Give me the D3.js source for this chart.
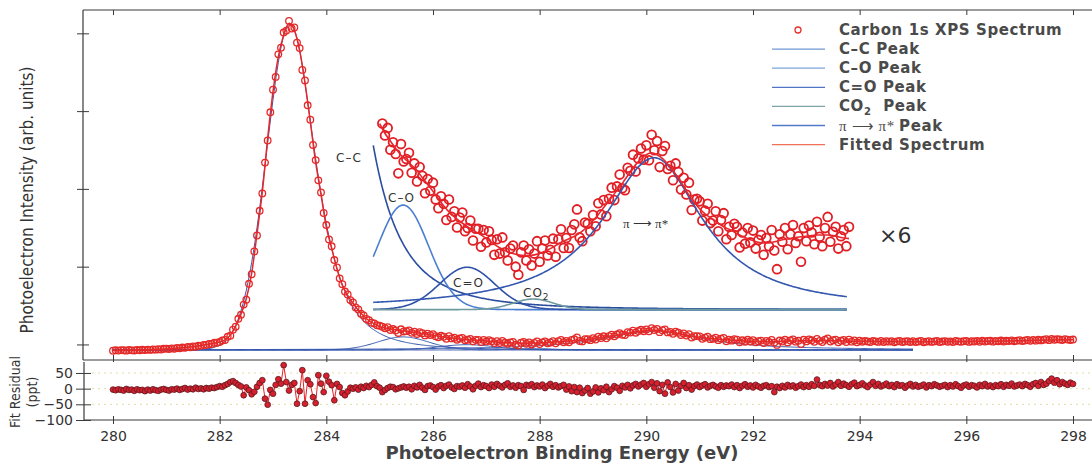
<!DOCTYPE html>
<html>
<head>
<meta charset="utf-8">
<script src="https://cdn.jsdelivr.net/npm/d3@7"></script>
<style>
  body { margin: 0; background: #fff; }
  svg text { font-family: "DejaVu Sans", sans-serif; fill: #333; }
</style>
</head>
<body>
<svg id="chart" width="1092" height="466"></svg>
<script>
// C 1s spectrum, sampled every 0.05 eV from 280 eV (counts, arb.)
const spectrumStart = 280, spectrumStep = 0.05;
const spectrum = [
  919,925,921,927,926,920,928,924,923,930,925,932,927,934,930,936,933,939,935,944,
  946,941,950,945,955,950,960,956,968,963,975,971,984,982,995,993,1007,1006,1021,1022,
  1031,1050,1057,1098,1113,1190,1228,1330,1381,1512,1576,1780,1902,2195,2401,2718,2942,3338,3622,3985,
  4275,4440,4730,4815,5010,5035,5160,5062,5075,4880,4810,4530,4395,4075,3890,3565,3370,3110,2955,2690,
  2535,2350,2262,2085,1990,1850,1775,1680,1642,1570,1541,1476,1449,1395,1372,1328,1311,1279,1270,1246,
  1240,1228,1209,1221,1186,1198,1179,1148,1195,1167,1171,1181,1149,1164,1135,1158,1144,1116,1139,1120,
  1133,1106,1092,1111,1099,1073,1106,1078,1087,1061,1077,1085,1055,1060,1072,1040,1059,1059,1030,1057,
  1037,1055,1041,1017,1042,1019,1045,1021,1008,1027,1032,998,985,1021,1032,1008,1026,1000,1019,1039,
  1006,1027,1040,1016,1025,1043,1014,1042,1058,1028,1044,1028,1057,1066,1090,1045,1039,1069,1067,1055,
  1081,1063,1100,1082,1105,1079,1107,1125,1105,1127,1146,1124,1121,1157,1152,1178,1151,1172,1188,1170,
  1193,1169,1210,1185,1200,1158,1184,1192,1155,1160,1137,1164,1150,1122,1141,1114,1133,1089,1106,1107,
  1103,1072,1088,1099,1068,1072,1087,1055,1073,1084,1042,1062,1049,1067,1062,1029,1053,1035,1060,1037,
  1056,1027,1041,1049,1017,1044,1031,1057,1024,994,1050,1038,1060,1026,1050,1065,1036,1047,1006,1060,
  1039,1064,1053,1034,1070,1046,1031,1060,1078,1038,1054,1062,1027,1047,1057,1031,1062,1036,1051,1027,
  1048,1035,1044,1037,1031,1046,1040,1033,1045,1030,1041,1036,1043,1029,1039,1044,1032,1038,1042,1031,
  1042,1030,1038,1044,1029,1036,1041,1033,1039,1045,1031,1037,1043,1034,1040,1030,1044,1039,1035,1042,
  1045,1033,1041,1037,1046,1034,1048,1038,1044,1049,1036,1045,1040,1050,1038,1047,1043,1052,1040,1049,
  1054,1043,1051,1057,1046,1058,1049,1061,1052,1060,1068,1055,1072,1060,1066,1063,1057,1068,1062,1058,
  1063
];

// fitted spectrum, every 0.1 eV from 280 eV
const fitStart = 280, fitStep = 0.1;
const fitted = [
  922,923,924,925,926,928,930,932,935,938,
  942,946,951,957,964,972,981,992,1004,1017,
  1033,1060,1120,1235,1390,1590,1915,2420,2960,3650,
  4250,4700,4980,5130,5040,4780,4360,3860,3340,2930,
  2510,2240,1970,1760,1630,1530,1440,1365,1305,1265,
  1228,1212,1200,1188,1177,1169,1161,1152,1141,1130,
  1119,1107,1096,1086,1078,1071,1065,1059,1054,1049,
  1043,1037,1031,1026,1022,1019,1017,1016,1016,1017,
  1019,1023,1027,1032,1037,1041,1045,1049,1055,1063,
  1072,1082,1093,1104,1115,1126,1138,1150,1162,1171,
  1178,1181,1178,1172,1163,1152,1141,1127,1113,1101,
  1091,1083,1077,1071,1065,1060,1056,1051,1047,1043,
  1040,1037,1036,1036,1038,1040,1042,1043,1045,1046,
  1047,1048,1049,1049,1049,1048,1046,1044,1043,1042,
  1042,1041,1040,1039,1038,1038,1037,1037,1036,1036,
  1036,1035,1035,1036,1036,1036,1037,1037,1038,1038,
  1039,1039,1040,1041,1042,1042,1043,1044,1045,1046,
  1048,1049,1051,1053,1055,1057,1058,1059,1060,1060,
  1060
];

// fit residual (ppt), same sampling as spectrum
const residual = [
  -3,-5,-2,-4,-6,-1,-4,-3,-7,-2,-5,-4,-8,-3,-6,-2,-5,-7,-3,-1,-4,-6,-2,-3,0,-4,-1,2,-3,0,-2,3,-1,1,-2,2,
  0,3,2,5,8,6,11,15,21,24,18,12,7,-21,4,
  -5,-18,-10,6,18,27,-32,-51,-4,-16,12,30,16,75,21,-6,12,18,-48,-8,
  59,-48,27,14,-27,-46,43,16,-11,41,22,11,-37,15,5,-14,-21,-9,3,0,
  4,-3,6,2,9,5,12,20,8,3,-11,-4,2,6,5,-2,1,4,7,3,
  6,-2,9,4,12,3,-4,8,10,5,-3,7,11,2,9,13,4,-1,8,6,
  10,3,14,7,-2,9,16,5,11,8,2,13,6,15,9,4,12,17,6,10,
  3,11,8,-4,12,9,14,5,10,7,13,2,9,15,6,11,4,8,12,-3,
  7,-8,5,-11,3,-14,-6,2,-16,-9,4,-12,1,-5,6,-11,-2,8,3,-7,
  9,4,12,1,10,15,7,13,18,6,14,21,3,17,-8,12,-16,20,5,-12,
  15,-6,9,18,2,11,-3,8,13,5,10,14,4,9,12,7,3,11,6,10,
  8,13,5,11,2,9,14,6,10,4,12,7,3,9,11,5,8,-11,6,2,
  9,4,12,7,10,3,8,13,5,11,6,14,9,29,12,8,15,10,18,7,
  13,21,9,16,11,6,14,19,8,12,17,10,5,13,21,9,15,7,11,16,
  8,12,5,14,9,11,3,10,15,7,12,6,9,13,4,11,8,14,10,6,
  9,12,5,11,7,14,8,3,10,13,6,11,9,4,12,8,15,7,10,5,
  11,8,14,6,12,9,16,7,10,13,8,15,11,6,14,18,9,21,12,16,
  24,32,19,27,14,21,16,12,19,15
];

// fitted component peaks (asymmetric Pearson VII: shape 1 = Lorentzian, large = Gaussian)
const peakNames = ['C–C', 'C–O', 'C=O', 'CO2', 'π → π*'];
const peakCenters = [283.32, 285.44, 286.64, 287.88, 290.15];
const peakHeights = [4190, 168, 68, 17, 244];
const peakHwhmLow = [0.52, 0.565, 0.61, 0.45, 1.18];
const peakHwhmHigh = [0.56, 0.565, 0.61, 0.45, 1.1];
const peakShapeLow = [30, 30, 30, 30, 1];
const peakShapeHigh = [1.8, 30, 30, 30, 1];
const peakBase = 929;

const xTicks = [280, 282, 284, 286, 288, 290, 292, 294, 296, 298];
const yTicks = [1000, 2000, 3000, 4000, 5000];
const resTicks = [50, 0, -50, -100];
const resGrid = [50, 0, -50];

// magnified view of 285-294 eV
const insetScale = 8, insetOffset = 748;
const insetRange = [285.05, 293.8];
const insetPeakRange = [284.88, 293.77];

const legendLabels = ['Carbon 1s XPS Spectrum', 'C–C Peak', 'C–O Peak', 'C=O Peak', 'CO2 Peak', 'π → π* Peak', 'Fitted Spectrum'];
const legendColors = ['#e8332c', '#7098d4', '#7ea4da', '#5274c4', '#7fa3a6', '#5479c8', '#f07058'];
const insetColors = ['#2b4e9e', '#4a7fd0', '#2f52a8', '#6e9a9e', '#3458b0'];

const svg = d3.select('#chart');
const x = d3.scaleLinear().domain([280, 298]).range([113, 1073]);
const y = d3.scaleLinear().domain([800, 5300]).range([360, 10]);
const yRes = d3.scaleLinear().domain([-100, 85]).range([420, 362]);

function peak(e, i) {
  const d = e - peakCenters[i];
  const hw = d < 0 ? peakHwhmLow[i] : peakHwhmHigh[i];
  const m = d < 0 ? peakShapeLow[i] : peakShapeHigh[i];
  const g = hw / Math.sqrt(Math.pow(2, 1 / m) - 1);
  return peakHeights[i] * Math.pow(1 + (d / g) * (d / g), -m);
}
const inset = v => insetScale * (v - insetOffset);

const specPts = spectrum.map((v, i) => ({ e: spectrumStart + i * spectrumStep, v }));
const fitPts = fitted.map((v, i) => ({ e: fitStart + i * fitStep, v }));
const resPts = residual.map((v, i) => ({ e: spectrumStart + i * spectrumStep, v }));

// frame
const frame = [[83, 10, 1092, 10], [83, 10, 83, 360], [83, 360, 1092, 360], [84, 362, 84, 420], [84, 420, 1092, 420]];
svg.append('g').selectAll('line').data(frame).enter().append('line')
  .attr('x1', d => d[0]).attr('y1', d => d[1]).attr('x2', d => d[2]).attr('y2', d => d[3])
  .style('stroke', '#3a3a3a').style('stroke-width', 1.2);

// axes
svg.append('g').attr('transform', 'translate(83,0)')
  .call(d3.axisLeft(y).tickValues(yTicks).tickFormat('').tickSize(6))
  .call(g => { g.select('.domain').remove(); g.selectAll('.tick line').attr('x1', 6).attr('x2', -6).style('stroke', '#3a3a3a'); });
svg.append('g').attr('transform', 'translate(0,10)')
  .call(d3.axisTop(x).tickValues(xTicks).tickFormat('').tickSize(5))
  .call(g => { g.select('.domain').remove(); g.selectAll('.tick line').attr('y2', 5).style('stroke', '#3a3a3a'); });
svg.append('g').attr('transform', 'translate(0,360)')
  .call(d3.axisBottom(x).tickValues(xTicks).tickFormat('').tickSize(5))
  .call(g => { g.select('.domain').remove(); g.selectAll('.tick line').attr('y1', -5).attr('y2', 2).style('stroke', '#3a3a3a'); });
svg.append('g').attr('transform', 'translate(0,420)')
  .call(d3.axisBottom(x).tickValues(xTicks).tickSize(5))
  .call(g => {
    g.select('.domain').remove();
    g.selectAll('.tick line').attr('y1', -4).attr('y2', 4).style('stroke', '#3a3a3a');
    g.selectAll('.tick text').attr('y', 21).attr('dy', null).style('font-size', '14px').style('font-family', '"DejaVu Sans", sans-serif').style('fill', '#333');
  });
svg.append('g').attr('transform', 'translate(84,0)')
  .call(d3.axisLeft(yRes).tickValues(resTicks).tickSize(8))
  .call(g => {
    g.select('.domain').remove();
    g.selectAll('.tick line').attr('x1', 7).attr('x2', -8).style('stroke', '#3a3a3a');
    g.selectAll('.tick text').attr('x', -11).style('font-size', '14px').style('font-family', '"DejaVu Sans", sans-serif').style('fill', '#333');
  });

// residual grid
svg.append('g').selectAll('line').data(resGrid).enter().append('line')
  .attr('x1', 92).attr('x2', 1090).attr('y1', d => yRes(d)).attr('y2', d => yRes(d))
  .style('stroke', '#e4dca4').style('stroke-width', 1).style('stroke-dasharray', '2,4');

// main components
const lineXY = d3.line().x(d => x(d[0])).y(d => y(d[1]));
const mainE = d3.range(280, 295.0001, 0.02);
peakNames.forEach((name, i) => {
  svg.append('path')
    .attr('d', lineXY(mainE.map(e => [e, peakBase + peak(e, i)])))
    .style('fill', 'none').style('stroke', '#3557ad').style('stroke-width', 1);
});

// main fitted spectrum and data
const fitLine = d3.line().x(d => x(d.e)).y(d => y(d.v)).curve(d3.curveMonotoneX);
svg.append('path').attr('d', fitLine(fitPts))
  .style('fill', 'none').style('stroke', '#e8262c').style('stroke-width', 1.5);
svg.append('g').selectAll('circle').data(specPts).enter().append('circle')
  .attr('cx', d => x(d.e)).attr('cy', d => y(d.v)).attr('r', 3.3)
  .style('fill', 'none').style('stroke', '#e42a28').style('stroke-width', 1.3);

// inset (x6 view)
const insetData = specPts.filter(d => d.e >= insetRange[0] - 1e-6 && d.e <= insetRange[1] + 1e-6);
const insetFit = fitPts.filter(d => d.e >= 285 - 1e-6 && d.e <= insetRange[1] + 1e-6);
svg.append('g').selectAll('circle').data(insetData).enter().append('circle')
  .attr('cx', d => x(d.e)).attr('cy', d => y(inset(d.v))).attr('r', 4.4)
  .style('fill', 'none').style('stroke', '#e01e24').style('stroke-width', 1.8);
const insetE = d3.range(insetPeakRange[0], insetPeakRange[1] + 0.0001, 0.02);
peakNames.forEach((name, i) => {
  svg.append('path')
    .attr('d', lineXY(insetE.map(e => [e, inset(peakBase + peak(e, i))])))
    .style('fill', 'none').style('stroke', insetColors[i]).style('stroke-width', 1.6);
});
svg.append('path').attr('d', d3.line().x(d => x(d.e)).y(d => y(inset(d.v))).curve(d3.curveMonotoneX)(insetFit))
  .style('fill', 'none').style('stroke', '#e8262c').style('stroke-width', 1.6);

// residuals
svg.append('path').attr('d', d3.line().x(d => x(d.e)).y(d => yRes(d.v))(resPts))
  .style('fill', 'none').style('stroke', '#e82028').style('stroke-width', 1);
svg.append('g').selectAll('circle').data(resPts).enter().append('circle')
  .attr('cx', d => x(d.e)).attr('cy', d => yRes(d.v)).attr('r', 2.9)
  .style('fill', '#d81f2e').style('stroke', '#5a1a20').style('stroke-width', 0.8);

// inset labels
const lbl = (tx, ty, size) => svg.append('text').attr('x', tx).attr('y', ty).style('font-size', size + 'px');
lbl(336, 162, 12).style('letter-spacing', '1px').text('C–C');
lbl(388, 202, 12).style('letter-spacing', '1px').text('C–O');
lbl(453, 287, 12).style('letter-spacing', '1px').text('C=O');
const co2 = lbl(523, 297, 12).style('letter-spacing', '1px');
co2.append('tspan').text('CO');
co2.append('tspan').attr('dy', 3).style('font-size', '9px').text('2');
lbl(623, 228, 13).style('font-family', '"Liberation Serif", serif').text('π ⟶ π*');
lbl(879, 243, 22).text('×6');

// axis titles
svg.append('text').attr('transform', 'translate(33,200) rotate(-90)').attr('text-anchor', 'middle')
  .style('font-family', '"Liberation Sans Narrow", "DejaVu Sans Condensed", sans-serif')
  .style('font-size', '17px').text('Photoelectron Intensity (arb. units)');
const resTitle = svg.append('text').attr('transform', 'translate(0,392) rotate(-90)').attr('text-anchor', 'middle')
  .style('font-family', '"Liberation Sans Narrow", "DejaVu Sans Condensed", sans-serif').style('font-size', '14px');
resTitle.append('tspan').attr('x', 0).attr('y', 20).text('Fit Residual');
resTitle.append('tspan').attr('x', 0).attr('y', 37).text('(ppt)');
svg.append('text').attr('x', 562).attr('y', 459).attr('text-anchor', 'middle')
  .style('font-size', '18px').style('font-weight', 'bold').style('fill', '#444')
  .text('Photoelectron Binding Energy (eV)');

// legend
const legend = svg.append('g');
legendLabels.forEach((label, i) => {
  const ly = 30 + i * 19.1;
  if (i === 0) {
    legend.append('circle').attr('cx', 798).attr('cy', ly).attr('r', 3)
      .style('fill', 'none').style('stroke', legendColors[i]).style('stroke-width', 1.3);
  } else {
    legend.append('line').attr('x1', 772).attr('x2', 825).attr('y1', ly).attr('y2', ly)
      .style('stroke', legendColors[i]).style('stroke-width', 1.3);
  }
  const t = legend.append('text').attr('x', 839).attr('y', ly + 5)
    .style('font-size', '15px').style('font-weight', 'bold').style('fill', '#4a4a4a').style('letter-spacing', '0.6px');
  if (label.startsWith('CO2')) {
    t.append('tspan').text('CO');
    t.append('tspan').attr('dy', 4).style('font-size', '10px').text('2');
    t.append('tspan').attr('dy', -4).attr('xml:space', 'preserve').text('  Peak');
  } else if (label.startsWith('π')) {
    t.append('tspan').style('font-weight', 'normal').style('font-family', '"Liberation Serif", serif').style('font-size', '15px').text('π ⟶ π* ');
    t.append('tspan').text('Peak');
  } else {
    t.text(label);
  }
});
</script>
</body>
</html>
